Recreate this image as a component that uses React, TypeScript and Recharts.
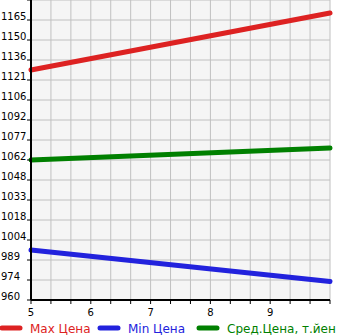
import { CartesianGrid, Legend, Line, LineChart, XAxis, YAxis } from "recharts";

const xValues = [5, 10];
const maxPrice = [1128.7, 1170.5];
const minPrice = [996.7, 973.6];
const avgPrice = [1062.7, 1071.5];

const seriesNames = ["Max Цена", "Min Цена", "Сред.Цена, т.йен"];
const seriesColors = ["#dd2222", "#2222dd", "#008000"];

const xLabels = [5, 6, 7, 8, 9];
const yDomain = [960, 1180];

const data = xValues.map((x, i) => ({
  x,
  max: maxPrice[i],
  min: minPrice[i],
  avg: avgPrice[i],
}));

const xTicks = Array.from({ length: 16 }, (_, i) => 5 + i / 3);
const yTicks = Array.from({ length: 16 }, (_, i) => yDomain[0] + (i * (yDomain[1] - yDomain[0])) / 15);

const font = "'DejaVu Sans', Verdana, sans-serif";

function YTick({ y, payload }: any) {
  if (payload.value >= yDomain[1] - 0.5) return null;
  return (
    <text x={1} y={y} fontSize={10} fontFamily={font} fill="#000" textAnchor="start">
      {Math.floor(payload.value + 1e-6)}
    </text>
  );
}

function XTick({ x, y, payload }: any) {
  const v = payload.value;
  const r = Math.round(v);
  if (Math.abs(v - r) > 1e-6 || !xLabels.includes(r)) return null;
  return (
    <text x={x} y={y + 10} fontSize={10} fontFamily={font} fill="#000" textAnchor="middle">
      {r}
    </text>
  );
}

function LegendContent() {
  const starts = [0, 98, 197];
  return (
    <svg width={345} height={20} style={{ display: "block" }}>
      {seriesNames.map((name, i) => (
        <g key={name}>
          <line
            x1={starts[i] + 2}
            x2={starts[i] + 20}
            y1={10}
            y2={10}
            stroke={seriesColors[i]}
            strokeWidth={5}
            strokeLinecap="round"
          />
          <text x={starts[i] + 30} y={14.5} fontSize={12} fontFamily={font} fill={seriesColors[i]}>
            {name}
          </text>
        </g>
      ))}
    </svg>
  );
}

export default function App() {
  return (
    <div style={{ position: "absolute", left: 0, top: 0, width: 345, height: 335, background: "#fff" }}>
      <LineChart width={345} height={335} data={data} margin={{ top: 0, right: 15, left: 0, bottom: 0 }}>
        <CartesianGrid stroke="#c0c0c0" strokeWidth={1} fill="#f5f5f5" fillOpacity={1} />
        <XAxis
          dataKey="x"
          type="number"
          domain={[5, 10]}
          ticks={xTicks}
          interval={0}
          tick={<XTick />}
          tickSize={4}
          axisLine={{ stroke: "#000", strokeWidth: 2 }}
          tickLine={{ stroke: "#000" }}
          height={18}
        />
        <YAxis
          type="number"
          domain={yDomain}
          ticks={yTicks}
          interval={0}
          width={31}
          tick={<YTick />}
          tickSize={4}
          axisLine={{ stroke: "#000", strokeWidth: 2 }}
          tickLine={{ stroke: "#000" }}
          allowDataOverflow
        />
        <Legend verticalAlign="bottom" height={17} content={<LegendContent />} wrapperStyle={{ left: 0, bottom: 0 }} />
        <Line
          dataKey="max"
          name={seriesNames[0]}
          stroke={seriesColors[0]}
          strokeWidth={5}
          strokeLinecap="round"
          dot={false}
          isAnimationActive={false}
        />
        <Line
          dataKey="min"
          name={seriesNames[1]}
          stroke={seriesColors[1]}
          strokeWidth={5}
          strokeLinecap="round"
          dot={false}
          isAnimationActive={false}
        />
        <Line
          dataKey="avg"
          name={seriesNames[2]}
          stroke={seriesColors[2]}
          strokeWidth={5}
          strokeLinecap="round"
          dot={false}
          isAnimationActive={false}
        />
      </LineChart>
    </div>
  );
}
